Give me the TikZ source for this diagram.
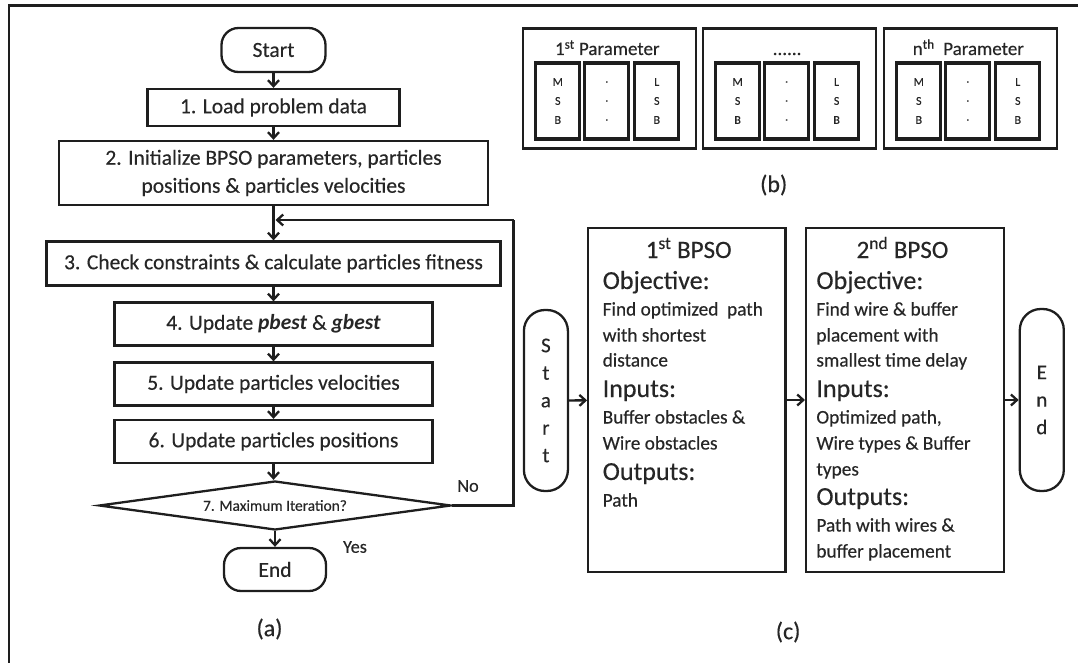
\documentclass[tikz,border=0pt]{standalone}
\usepackage{fontspec}
\setmainfont{Carlito}[UprightFeatures={FakeBold=0.35}]
\usetikzlibrary{arrows.meta,shapes.geometric}

\definecolor{ink}{HTML}{1E1E1E}
\definecolor{txt}{HTML}{262626}

\newcommand{\fsz}[2]{\fontsize{#1}{#2}\selectfont}

\begin{document}
\begin{tikzpicture}[x=1pt,y=-1pt,
  every node/.style={text=txt},
  box/.style={draw=ink, line width=2.3pt, inner sep=0pt, align=center, font=\fsz{21.5}{28}},
  term/.style={box, rounded corners=17pt},
  vterm/.style={box, rounded corners=21pt, minimum width=44pt, font=\fsz{21}{27.5}},
  decision/.style={draw=ink, line width=2.3pt, diamond, aspect=7, inner sep=0pt,
    minimum width=352pt, minimum height=49pt, font=\fsz{15.4}{16}},
  flow/.style={draw=ink, line width=2.3pt, -{Straight Barb[length=6pt,width=11pt]}},
  wire/.style={draw=ink, line width=2.3pt},
  lbl/.style={inner sep=0pt, font=\fsz{18.2}{20}},
  caption/.style={inner sep=0pt, font=\fsz{24}{26}},
  pbox/.style={draw=ink, line width=2.2pt, minimum width=172.5pt, minimum height=120pt, inner sep=0pt},
  ptitle/.style={anchor=base, inner sep=0pt, font=\fsz{19}{20}},
  bitbox/.style={draw=ink, line width=3.2pt, minimum width=44pt, minimum height=76pt,
    inner sep=0pt, align=center, font=\fsz{12}{19}},
  ctext/.style={anchor=base west, inner sep=0pt, font=\fsz{19.3}{20}},
  chead/.style={anchor=base west, inner sep=0pt, font=\fsz{26}{28}},
  ctitle/.style={anchor=base, inner sep=0pt, font=\fsz{25}{26}}
]
\useasboundingbox (0,0) rectangle (1078,663);

% outer frame
\draw[ink, line width=2.8pt] (9,663) -- (9,5.3) -- (1078,5.3);

% ---------------- (a) BPSO flowchart ----------------
\node[term, minimum width=104pt, minimum height=44pt] (start) at (273.5,50) {Start};
\node[box, minimum width=252pt, minimum height=37pt] (s1) at (273.5,107.5) {1. Load problem data};
\node[box, minimum width=429pt, minimum height=64pt] (s2) at (273.5,173)
  {2. Initialize BPSO parameters, particles\\positions \& particles velocities};
\node[box, minimum width=454pt, minimum height=44pt] (s3) at (273.5,263.5)
  {3. Check constraints \& calculate particles fitness};
\node[box, minimum width=318pt, minimum height=43pt] (s4) at (273.5,324)
  {4. Update \textbf{\textit{pbest}} \& \textbf{\textit{gbest}}};
\node[box, minimum width=318pt, minimum height=43pt] (s5) at (273.5,384)
  {5. Update particles velocities};
\node[box, minimum width=318pt, minimum height=43pt] (s6) at (273.5,441.5)
  {6. Update particles positions};
\node[decision] (dec) at (275,505.5) {\raisebox{-3pt}{7. Maximum Iteration?}};
\node[term, minimum width=102pt, minimum height=43pt] (stop) at (275,569.5) {End};

\draw[flow] (start) -- (s1);
\draw[flow] (s1) -- (s2);
\draw[flow] (s2) -- (s3);
\draw[flow] (s3) -- (s4);
\draw[flow] (s4) -- (s5);
\draw[flow] (s5) -- (s6);
\draw[flow] (s6.south) -- (s6.south |- dec.north);
\draw[flow] (dec.south) -- (dec.south |- stop.north);

\coordinate (loopTop) at (513.5,220);
\coordinate (merge) at (275.5,220);
\draw[wire, line join=miter] (dec.east) -| (loopTop);
\draw[flow] (loopTop) -- (merge);

\node[lbl] (no) at (468,486) {No};
\node[lbl] (yes) at (355,547) {Yes};
\node[caption] (capa) at (269.5,629) {(a)};

% ---------------- (b) particle encoding ----------------
\foreach \i/\bx/\ttl in {1/523.3/{1\textsuperscript{st} Parameter},
                         2/703.1/{......},
                         3/884.3/{n\textsuperscript{th}\ \ Parameter}} {
  \node[pbox] (p\i) at (\bx+86.25,88.5) {};
  \node[ptitle] (p\i t) at (\bx+84,55) {\ttl};
  \node[bitbox] (p\i a) at (\bx+34.5,101) {M\\S\\B};
  \node[bitbox] (p\i b) at (\bx+83.5,101) {.\\.\\.};
  \node[bitbox] (p\i c) at (\bx+133.5,101) {L\\S\\B};
}
\node[caption] (capb) at (773.7,185) {(b)};

% ---------------- (c) two-stage BPSO ----------------
\node[vterm, minimum height=181pt] (cstart) at (545.9,400.5) {S\\t\\a\\r\\t};
\node[box, minimum width=197.3pt, minimum height=344pt] (b1) at (686.9,400) {};
\node[box, minimum width=197.6pt, minimum height=344pt] (b2) at (904.9,400) {};
\node[vterm, minimum height=182pt] (cend) at (1041.8,400) {E\\n\\d};

\draw[flow] (cstart) -- (b1);
\draw[flow] (b1) -- (b2);
\draw[flow] (b2) -- (cend);

% first stage
\node[ctitle] (b1t) at (688.7,258) {1\textsuperscript{st} BPSO};
\node[chead] (b1o) at (602.5,289) {Objective:};
\node[ctext] (b1o1) at (602.5,315.5) {Find optimized\ \ path};
\node[ctext] (b1o2) at (602.5,341.5) {with shortest};
\node[ctext] (b1o3) at (602.5,366.5) {distance};
\node[chead] (b1i) at (602.5,397) {Inputs:};
\node[ctext] (b1i1) at (602.5,423.5) {Buffer obstacles \&};
\node[ctext] (b1i2) at (602.5,449.5) {Wire obstacles};
\node[chead] (b1u) at (602.5,480) {Outputs:};
\node[ctext] (b1u1) at (602.5,506.5) {Path};

% second stage
\node[ctitle] (b2t) at (902.5,258) {2\textsuperscript{nd} BPSO};
\node[chead] (b2o) at (816.2,289) {Objective:};
\node[ctext] (b2o1) at (816.2,315.5) {Find wire \& buffer};
\node[ctext] (b2o2) at (816.2,341.5) {placement with};
\node[ctext] (b2o3) at (816.2,366.5) {smallest time delay};
\node[chead] (b2i) at (816.2,397) {Inputs:};
\node[ctext] (b2i1) at (816.2,423.5) {Optimized path,};
\node[ctext] (b2i2) at (816.2,449.5) {Wire types \& Buffer};
\node[ctext] (b2i3) at (816.2,475.5) {types};
\node[chead] (b2u) at (816.2,505) {Outputs:};
\node[ctext] (b2u1) at (816.2,531.5) {Path with wires \&};
\node[ctext] (b2u2) at (816.2,557.5) {buffer placement};

\node[caption] (capc) at (788.1,632) {(c)};
\end{tikzpicture}
\end{document}
